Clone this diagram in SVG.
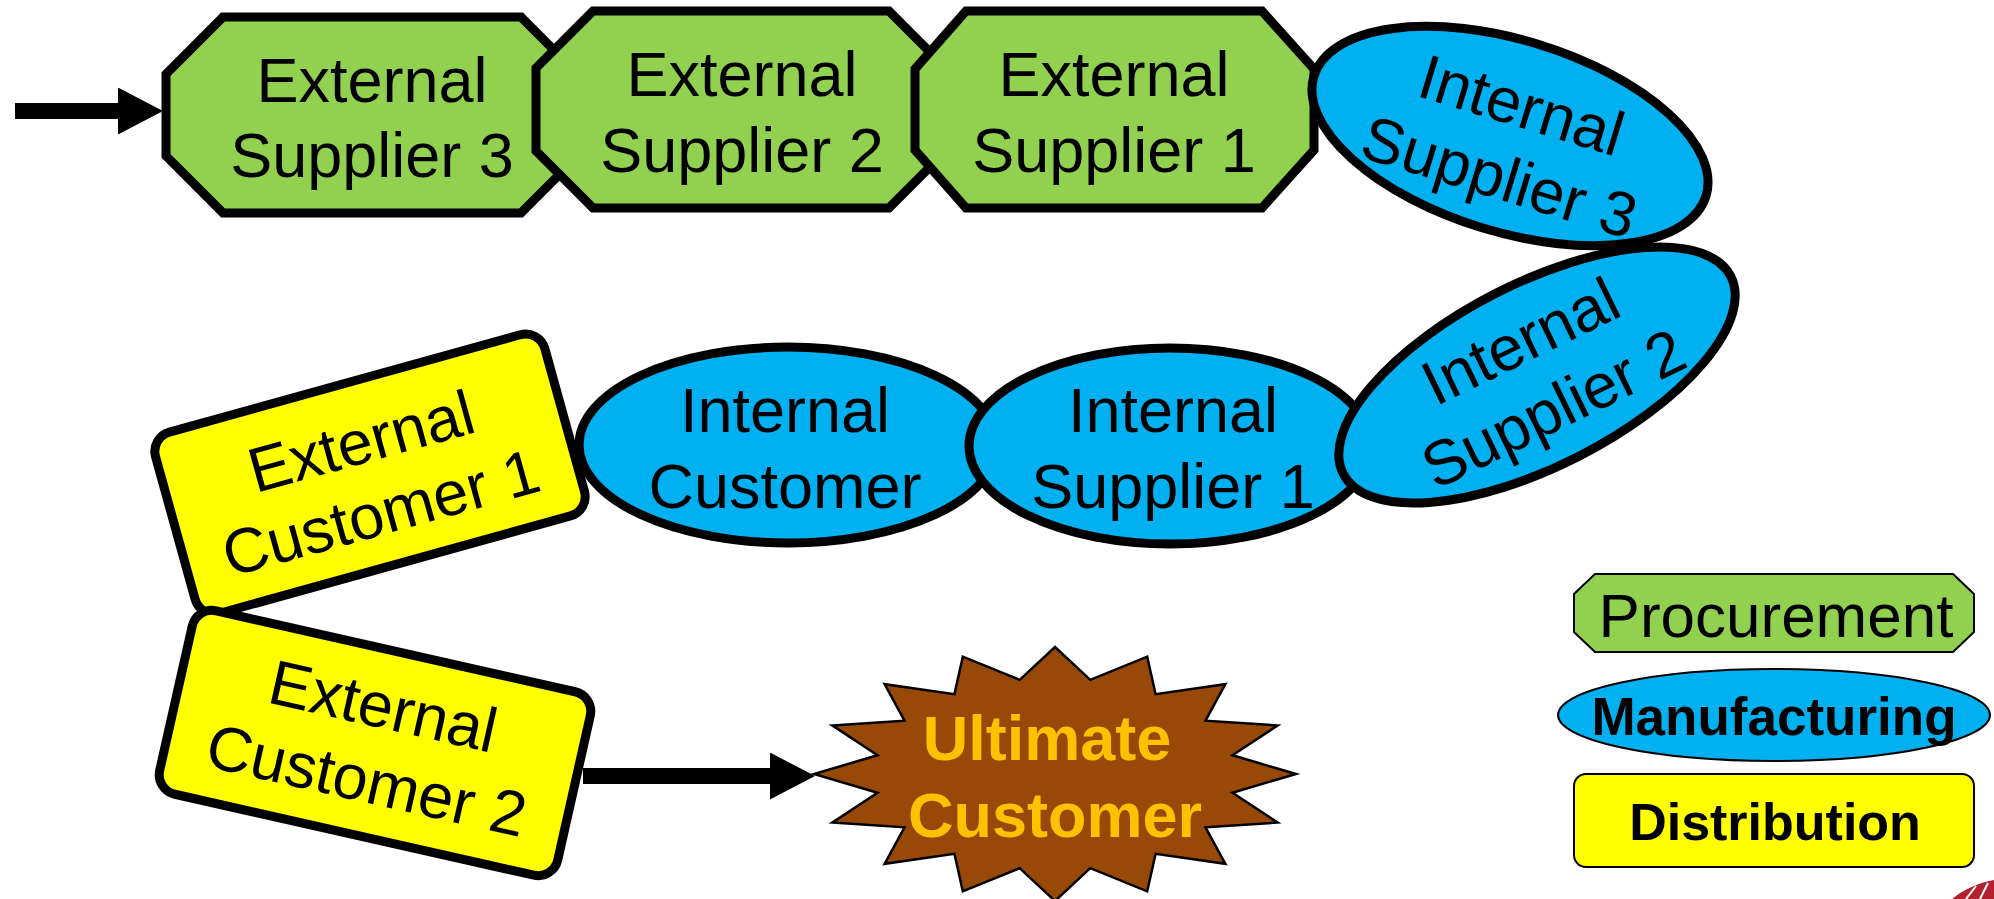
<svg xmlns="http://www.w3.org/2000/svg" width="1994" height="899" viewBox="0 0 1994 899">
<style>
.n{stroke:#000;stroke-width:9;stroke-linejoin:miter;stroke-miterlimit:10}
.g{fill:#92D050}.b{fill:#00B0F0}.y{fill:#FFFF00}
.t{font-family:"Liberation Sans",Arial,sans-serif;font-size:63px;text-anchor:middle;fill:#000}
.bt{font-family:"Liberation Sans",Arial,sans-serif;font-weight:bold;text-anchor:middle}
.c{stroke:#000;stroke-width:16;fill:none}
</style>
<defs>
<marker id="ah" viewBox="0 0 45 47" refX="0" refY="23.5" markerWidth="45" markerHeight="47" markerUnits="userSpaceOnUse" orient="auto">
<path d="M0,0 L45,23.5 L0,47 Z" fill="#000"/>
</marker>
</defs>
<rect width="1994" height="899" fill="#fff"/>

<g id="ext-supplier-3">
<polygon class="n g" points="223,17 521,17 578,74 578,156 521,213 223,213 166,156 166,74"/>
<text class="t" x="372" y="102">External</text>
<text class="t" x="372" y="177">Supplier 3</text>
</g>
<g id="ext-supplier-2">
<polygon class="n g" points="593,11 889,11 946,68 946,151 889,208 593,208 536,151 536,68"/>
<text class="t" x="742" y="96">External</text>
<text class="t" x="742" y="172">Supplier 2</text>
</g>
<g id="ext-supplier-1">
<polygon class="n g" points="966,11 1262,11 1314,69 1314,150 1262,208 966,208 915,150 915,69"/>
<text class="t" x="1114" y="96">External</text>
<text class="t" x="1114" y="172">Supplier 1</text>
</g>
<g id="int-supplier-3" transform="translate(1510,136) rotate(17)">
<ellipse class="n b" cx="0" cy="0" rx="205" ry="96"/>
<text class="t" x="2" y="-11">Internal</text>
<text class="t" x="2" y="64">Supplier 3</text>
</g>
<g id="ext-customer-1" transform="translate(370,474) rotate(-15.5)">
<rect class="n y" x="-202" y="-94" width="404" height="188" rx="20"/>
<text class="t" x="0" y="-12">External</text>
<text class="t" x="0" y="62">Customer 1</text>
</g>
<g id="int-customer">
<ellipse class="n b" cx="788" cy="445" rx="209" ry="98"/>
<text class="t" x="785" y="432">Internal</text>
<text class="t" x="785" y="508">Customer</text>
</g>
<g id="int-supplier-1">
<ellipse class="n b" cx="1170" cy="446" rx="201" ry="98"/>
<text class="t" x="1173" y="432">Internal</text>
<text class="t" x="1173" y="508">Supplier 1</text>
</g>
<g id="int-supplier-2" transform="translate(1537,375) rotate(-27)">
<ellipse class="n b" cx="0" cy="0" rx="217.5" ry="91.5"/>
<g transform="rotate(1)">
<text class="t" x="0" y="-16">Internal</text>
<text class="t" x="0" y="59">Supplier 2</text>
</g>
</g>
<g id="ext-customer-2" transform="translate(375,743) rotate(12.7)">
<rect class="n y" x="-204" y="-94" width="408" height="188" rx="20"/>
<text class="t" x="0" y="-16">External</text>
<text class="t" x="0" y="60">Customer 2</text>
</g>
<g id="ultimate-customer">
<polygon fill="#984807" stroke="#000" stroke-width="2.5" points="1296,774 1232.5,755.3 1277.7,725.4 1205.5,720.7 1225.4,684.2 1155.6,694.2 1147.2,656.7 1090.3,679.8 1055,647 1019.7,679.8 962.8,656.7 954.4,694.2 884.6,684.2 904.5,720.7 832.3,725.4 877.5,755.3 814,774 877.5,792.7 832.3,822.6 904.5,827.3 884.6,863.8 954.4,853.8 962.8,891.3 1019.7,868.2 1055,901 1090.3,868.2 1147.2,891.3 1155.6,853.8 1225.4,863.8 1205.5,827.3 1277.7,822.6 1232.5,792.7"/>
<text class="bt" x="1047" y="760" font-size="63" fill="#FFC000">Ultimate</text>
<text class="bt" x="1055" y="837" font-size="63" fill="#FFC000">Customer</text>
</g>

<g id="connectors">
<line class="c" x1="15" y1="111" x2="118" y2="111" marker-end="url(#ah)"/>
<line class="c" x1="583" y1="776" x2="770" y2="776" marker-end="url(#ah)"/>
</g>

<g id="legend-procurement">
<polygon fill="#92D050" stroke="#000" stroke-width="2" points="1595,574 1953,574 1974,594 1974,632 1953,652 1595,652 1574,632 1574,594"/>
<text class="t" x="1776" y="637" font-size="62" style="font-size:62px">Procurement</text>
</g>
<g id="legend-manufacturing">
<ellipse cx="1774" cy="715" rx="216" ry="46" fill="#00B0F0" stroke="#000" stroke-width="2"/>
<text class="bt" x="1774" y="735" font-size="53">Manufacturing</text>
</g>
<g id="legend-distribution">
<rect x="1574" y="774" width="400" height="93" rx="12" fill="#FFFF00" stroke="#000" stroke-width="2"/>
<text class="bt" x="1775" y="840" font-size="52">Distribution</text>
</g>
<g id="corner-logo">
<path d="M1952,899 C1964,889 1978,883 1994,880 L1994,899 Z" fill="#B3202E"/>
<path d="M1966,899 L1976,886 M1980,899 L1988,883" stroke="#fff" stroke-width="2"/>
</g>
</svg>
